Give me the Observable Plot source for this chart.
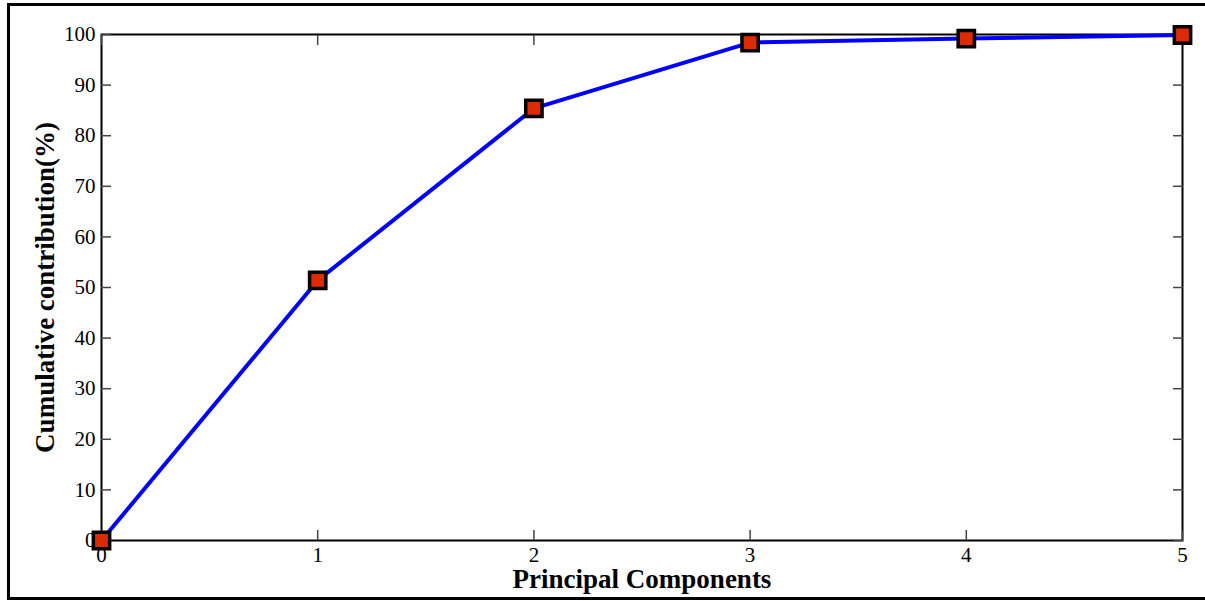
<!DOCTYPE html>
<html>
<head>
<meta charset="utf-8">
<script src="https://cdn.jsdelivr.net/npm/d3@7"></script>
<script src="https://cdn.jsdelivr.net/npm/@observablehq/plot@0.6"></script>
<style>
  html, body { margin: 0; padding: 0; background: #fff; }
  #chart { width: 1205px; height: 601px; overflow: hidden; }
</style>
</head>
<body>
<div id="chart"></div>
<script>
// Principal components and their cumulative contribution (%)
const components = [0, 1, 2, 3, 4, 5];
const cumulative = [0, 51.4, 85.4, 98.4, 99.2, 99.9];
const xTicks = [0, 1, 2, 3, 4, 5];
const yTicks = [0, 10, 20, 30, 40, 50, 60, 70, 80, 90, 100];
const xLabel = "Principal Components";
const yLabel = "Cumulative contribution(%)";

const rows = components.map((c, i) => ({pc: c, value: cumulative[i]}));
const serif = "'Liberation Serif', 'Times New Roman', serif";

const chart = Plot.plot({
  width: 1205,
  height: 601,
  marginLeft: 101,
  marginRight: 23,
  marginTop: 34,
  marginBottom: 61,
  style: {fontFamily: serif, fontSize: "21px", color: "#000", background: "#fff"},
  x: {domain: [0, 5]},
  y: {domain: [0, 100]},
  marks: [
    // outer figure border
    Plot.frame({stroke: "#000", strokeWidth: 3, insetLeft: -93, insetTop: -30, insetBottom: -58, insetRight: -40}),
    Plot.frame({stroke: "#000", strokeWidth: 2}),
    Plot.axisX({anchor: "bottom", ticks: xTicks, tickSize: -10, tickPadding: 17, tickFormat: d3.format("d"), fontSize: 21, label: null, strokeWidth: 1.5, stroke: "#444", fill: "#000"}),
    Plot.axisX({anchor: "top", ticks: xTicks, tickSize: -10, tickFormat: () => "", label: null, strokeWidth: 1.5, stroke: "#444"}),
    Plot.axisY({anchor: "left", ticks: yTicks, tickSize: -10, tickPadding: 16, tickFormat: d3.format("d"), fontSize: 21, label: null, strokeWidth: 1.5, stroke: "#444", fill: "#000"}),
    Plot.axisY({anchor: "right", ticks: yTicks, tickSize: -10, tickFormat: () => "", label: null, strokeWidth: 1.5, stroke: "#444"}),
    Plot.text([xLabel], {frameAnchor: "bottom", dy: 39, lineAnchor: "middle", textAnchor: "middle", fontWeight: "bold", fontSize: 27, fontFamily: serif, fill: "#000"}),
    Plot.text([yLabel], {frameAnchor: "left", rotate: -90, dx: -56, lineAnchor: "middle", textAnchor: "middle", fontWeight: "bold", fontSize: 27, fontFamily: serif, fill: "#000"}),
    Plot.line(rows, {x: "pc", y: "value", stroke: "#0000ff", strokeWidth: 4}),
    Plot.dot(rows, {x: "pc", y: "value", symbol: "square", r: 9.2, fill: "#dd2a00", stroke: "#000", strokeWidth: 3.5})
  ]
});

document.getElementById("chart").append(chart);
</script>
</body>
</html>
